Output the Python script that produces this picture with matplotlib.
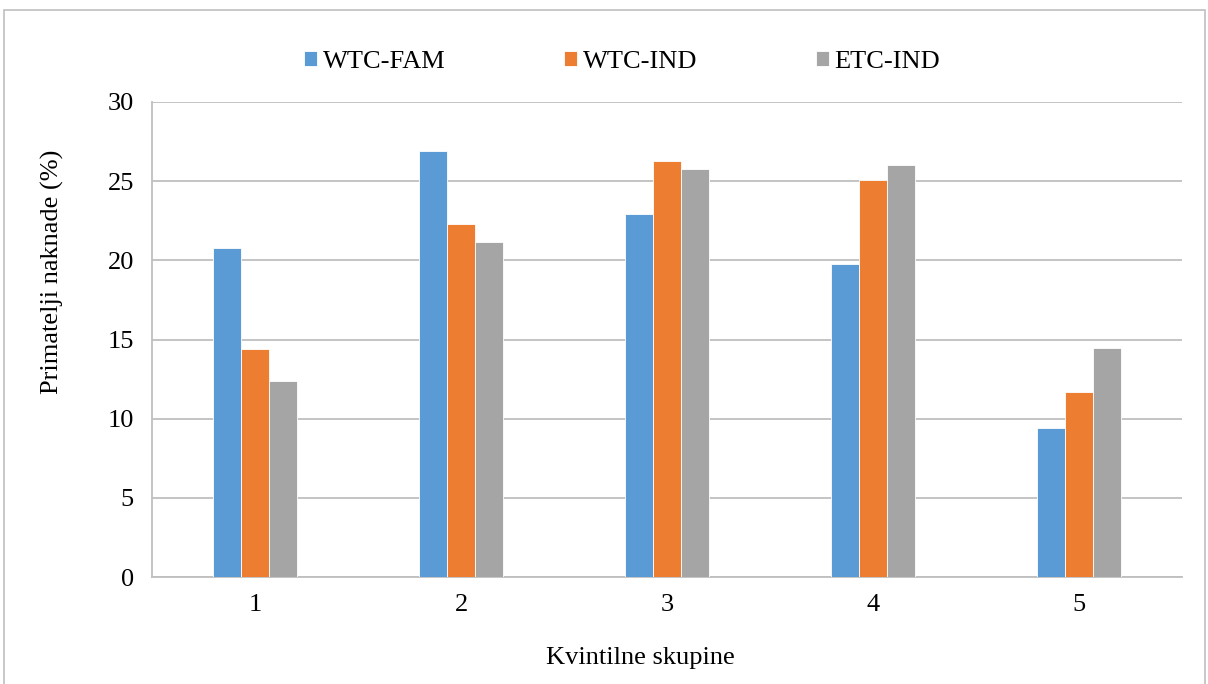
import matplotlib.pyplot as plt
import matplotlib.patches as mpatches
import numpy as np

plt.rcParams['font.family'] = ['Liberation Serif', 'DejaVu Serif']

kategorije = ['1', '2', '3', '4', '5']
wtc_fam = [20.8, 26.9, 22.9, 19.8, 9.4]
wtc_ind = [14.4, 22.3, 26.3, 25.1, 11.7]
etc_ind = [12.4, 21.15, 25.75, 26.05, 14.45]
serije = ['WTC-FAM', 'WTC-IND', 'ETC-IND']
boje = ['#5B9BD5', '#ED7D31', '#A5A5A5']

W, H = 1208, 684
fig = plt.figure(figsize=(W / 100, H / 100), dpi=100)
ax = fig.add_axes([152 / W, 1 - 577 / H, (1182 - 152) / W, (577 - 102) / H])

# okvir oko cijelog grafikona
fig.patches.append(mpatches.Rectangle((4 / W, -0.05), 1201 / W, 1.05 - 10 / H,
                                      transform=fig.transFigure, fill=False,
                                      edgecolor='#BFBFBF', linewidth=1.2))

x = np.arange(len(kategorije))
w = 0.135
for i, (vals, ime) in enumerate(zip([wtc_fam, wtc_ind, etc_ind], serije)):
    ax.bar(x + (i - 1) * w, vals, w, color=boje[i], label=ime,
           edgecolor='white', linewidth=0.6, zorder=3)

ax.set_xlim(-0.5, len(kategorije) - 0.5)
ax.set_ylim(0, 30)
ax.set_yticks(range(0, 31, 5))
ax.set_xticks(x)
ax.set_xticklabels(kategorije)
ax.grid(axis='y', color='#BFBFBF', linewidth=1.3, zorder=0)
ax.tick_params(length=0, labelsize=19, pad=12)
ax.tick_params(axis='y', pad=13)
for s in ['top', 'right']:
    ax.spines[s].set_visible(False)
for s in ['left', 'bottom']:
    ax.spines[s].set_color('#BFBFBF')
    ax.spines[s].set_linewidth(1.3)

fig.text(52 / W, 1 - 272 / H, 'Primatelji naknade (%)', rotation=90,
         ha='center', va='center', fontsize=19)
fig.text(640 / W, 1 - 658 / H, 'Kvintilne skupine', ha='center', va='center',
         fontsize=19)

ax.legend(loc='center', bbox_to_anchor=(622 / W, 1 - 62 / H),
          bbox_transform=fig.transFigure, ncol=3, frameon=False,
          fontsize=19, handlelength=0.5, handleheight=0.5, handletextpad=0.2,
          columnspacing=4.5)

fig.savefig('out.png', dpi=100)
